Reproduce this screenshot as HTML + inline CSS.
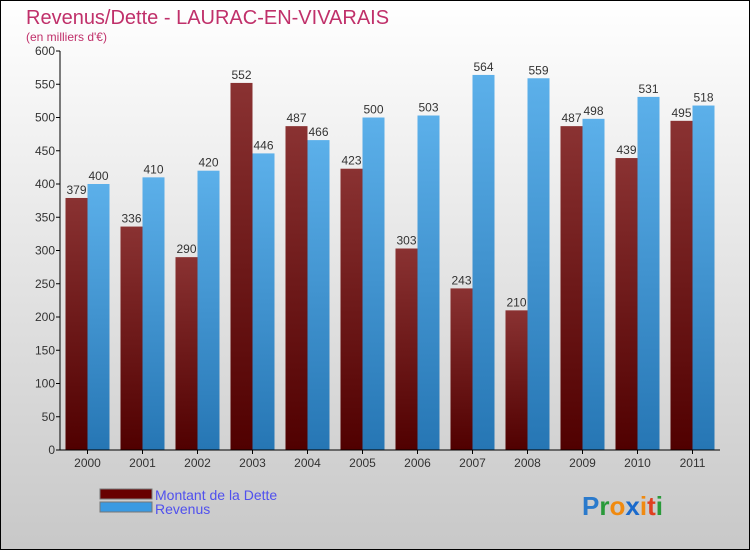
<!DOCTYPE html>
<html><head><meta charset="utf-8"><style>
body{margin:0}
svg text{font-family:"Liberation Sans",sans-serif}
</style></head><body>
<svg width="750" height="550" xmlns="http://www.w3.org/2000/svg">
<defs>
<linearGradient id="bg" x1="0" y1="0" x2="0" y2="1"><stop offset="0" stop-color="#ffffff"/><stop offset="1" stop-color="#c8c8c8"/></linearGradient>
<linearGradient id="gd" x1="0" y1="0" x2="0" y2="1"><stop offset="0" stop-color="#8a3232"/><stop offset="1" stop-color="#500000"/></linearGradient>
<linearGradient id="gr" x1="0" y1="0" x2="0" y2="1"><stop offset="0" stop-color="#5cb0ea"/><stop offset="1" stop-color="#2676b4"/></linearGradient>
</defs>
<rect x="0.5" y="0.5" width="749" height="549" fill="url(#bg)" stroke="#000"/>
<text x="26" y="24" font-size="20" fill="#c0306a">Revenus/Dette - LAURAC-EN-VIVARAIS</text>
<text x="26" y="41" font-size="12" fill="#c0306a">(en milliers d'€)</text>
<g id="plot"></g>
<g>
<rect x="100" y="489" width="52" height="10" fill="#680000" stroke="#777"/>
<text x="155" y="500" font-size="14" fill="#5050ee">Montant de la Dette</text>
<rect x="100" y="502" width="52" height="10" fill="#3a9ae2" stroke="#777"/>
<text x="155" y="514" font-size="14" fill="#5050ee">Revenus</text>
</g>
<g font-size="26" font-weight="bold">
<text x="582" y="515"><tspan fill="#2a7acc">P</tspan><tspan fill="#2a9a3a">r</tspan><tspan fill="#f08a10">o</tspan><tspan fill="#1a6acc">x</tspan><tspan fill="#f08a10">i</tspan><tspan fill="#e04020">t</tspan><tspan fill="#2a9a3a">i</tspan></text>
</g>
</svg>
<script>
const years=["2000","2001","2002","2003","2004","2005","2006","2007","2008","2009","2010","2011"];
const dette=[379,336,290,552,487,423,303,243,210,487,439,495];
const revenus=[400,410,420,446,466,500,503,564,559,498,531,518];
const yTicks=[0,50,100,150,200,250,300,350,400,450,500,550,600];
const NS="http://www.w3.org/2000/svg";
const g=document.getElementById('plot');
const x0=60,x1=720,yb=450,yt=51,yMax=600,step=55,off=5.5,bw=22;
const y=v=>yb-(v/yMax)*(yb-yt);
function mk(t,a){const e=document.createElementNS(NS,t);for(const k in a)e.setAttribute(k,a[k]);g.appendChild(e);return e;}
yTicks.forEach(t=>{
 const l=mk('line',{x1:x0-4,x2:x0,y1:y(t),y2:y(t),stroke:'#000'});
 
 
 const tx=mk('text',{x:x0-5,y:y(t)+4,'font-size':12,'text-anchor':'end',fill:'#333'});
 tx.textContent=t;
 
 
});
years.forEach((yr,i)=>{
 const gx=x0+off+i*step;
 const r1=mk('rect',{x:gx,y:y(dette[i]),width:bw,height:yb-y(dette[i]),fill:'url(#gd)'});
 
 
 const r2=mk('rect',{x:gx+bw,y:y(revenus[i]),width:bw,height:yb-y(revenus[i]),fill:'url(#gr)'});
 
 
 const t1=mk('text',{x:gx+bw/2,y:y(dette[i])-4,'font-size':12,'text-anchor':'middle',fill:'#333'});
 t1.textContent=dette[i];
 
 
 const t2=mk('text',{x:gx+bw*1.5,y:y(revenus[i])-4,'font-size':12,'text-anchor':'middle',fill:'#333'});
 t2.textContent=revenus[i];
 
 
 const tk=mk('line',{x1:gx+bw,x2:gx+bw,y1:yb,y2:yb+4,stroke:'#000'});
 
 
 const xl=mk('text',{x:gx+bw,y:yb+17,'font-size':12,'text-anchor':'middle',fill:'#333'});
 xl.textContent=yr;
 
 
});
const ya=mk('line',{x1:x0,x2:x0,y1:yt,y2:yb,stroke:'#000'});


const xa=mk('line',{x1:x0,x2:x1,y1:yb,y2:yb,stroke:'#000'});


</script>
</body></html>
